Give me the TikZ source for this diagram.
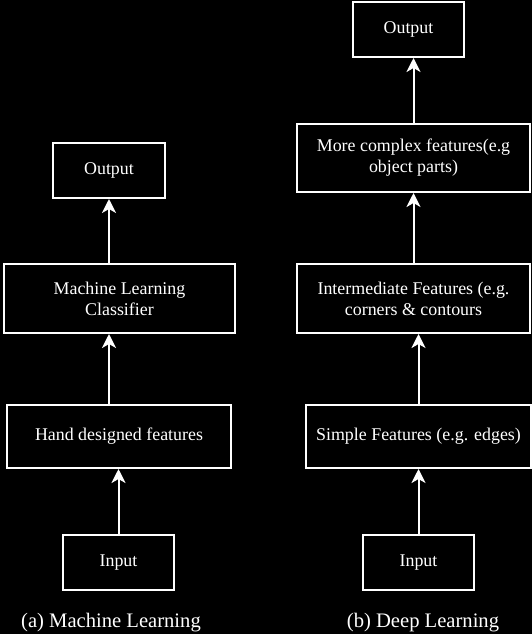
\documentclass[tikz,border=0pt]{standalone}
\usepackage{fontspec}
\setmainfont{Liberation Serif}
\usetikzlibrary{arrows.meta}
\begin{document}
\begin{tikzpicture}[x=1pt,y=-1pt,
  box/.style={draw=white,line width=2pt,text=white,align=center,inner sep=0pt,
    font=\fontsize{17.9}{21}\selectfont},
  link/.style={draw=white,line width=2pt,-{Stealth[length=14pt,width=14pt,inset=4pt]}},
  caption/.style={text=white,inner sep=0pt,font=\fontsize{20.6}{23}\selectfont}]

\fill[black] (0,0) rectangle (532,634);
\useasboundingbox (0,0) rectangle (532,634);

% (a) machine learning
\node[box,minimum width=112pt,minimum height=55pt] (mlout) at (109,170.5) {Output};
\node[box,minimum width=231pt,minimum height=69pt] (mlclass) at (119.5,298.5) {Machine Learning\\Classifier};
\node[box,minimum width=224pt,minimum height=63pt] (mlfeat) at (119,436.5) {Hand designed features};
\node[box,minimum width=111pt,minimum height=55pt] (mlin) at (118.5,562.5) {Input};
\node[caption] (mlcap) at (111,623) {(a) Machine Learning};

\draw[link] (mlin) -- (mlin |- mlfeat.south);
\draw[link] (mlout |- mlfeat.north) -- (mlout |- mlclass.south);
\draw[link] (mlout |- mlclass.north) -- (mlout);

% (b) deep learning
\node[box,minimum width=111pt,minimum height=55pt] (dlout) at (408.5,29.5) {Output};
\node[box,minimum width=233pt,minimum height=68pt] (dlhigh) at (413.5,158) {More complex features(e.g\\object parts)};
\node[box,minimum width=233pt,minimum height=69pt] (dlmid) at (413.5,298.5) {Intermediate Features (e.g.\\corners \& contours};
\node[box,minimum width=225pt,minimum height=63pt] (dllow) at (418.5,436.5) {Simple Features (e.g. edges)};
\node[box,minimum width=111pt,minimum height=55pt] (dlin) at (418.5,562.5) {Input};
\node[caption] (dlcap) at (423,623) {(b) Deep Learning};

\draw[link] (dlin) -- (dlin |- dllow.south);
\draw[link] (dlin |- dllow.north) -- (dlin |- dlmid.south);
\draw[link] (dlhigh |- dlmid.north) -- (dlhigh);
\draw[link] (dlhigh) -- (dlhigh |- dlout.south);

\end{tikzpicture}
\end{document}
